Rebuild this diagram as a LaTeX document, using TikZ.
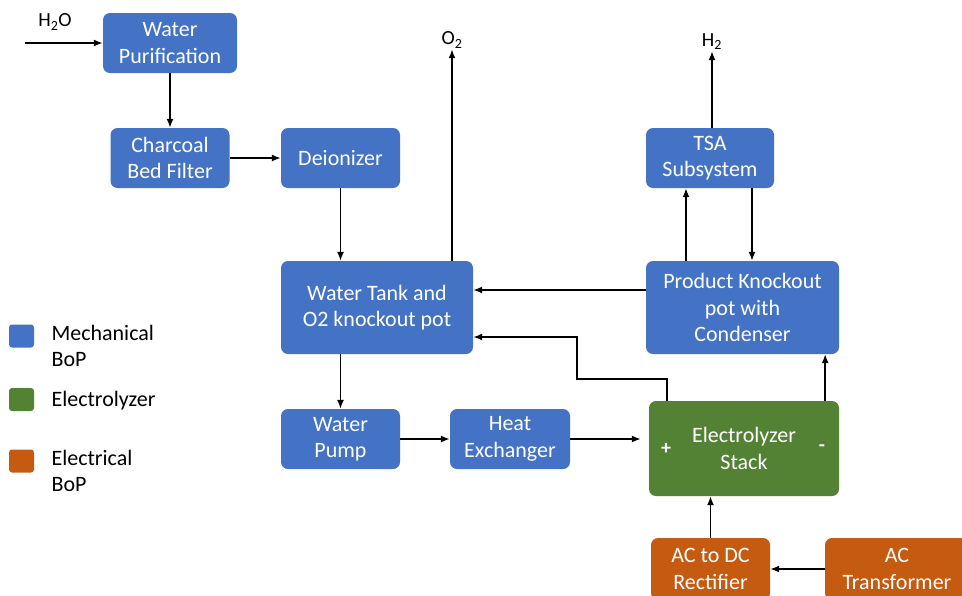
\documentclass[tikz,border=0pt]{standalone}
\usepackage{fontspec}
\setmainfont{Carlito}
\usetikzlibrary{arrows.meta,positioning}
\definecolor{mechblue}{HTML}{4472C4}
\definecolor{elgreen}{HTML}{548235}
\definecolor{elorange}{HTML}{C55A11}

\begin{document}
\begin{tikzpicture}[x=1pt,y=-1pt,>={Latex[length=9pt,width=7pt]},
  blk/.style={rounded corners=7pt,text=white,align=center,inner sep=0pt,
    font=\fontsize{22}{26.5}\selectfont},
  mech/.style={blk,fill=mechblue},
  stack/.style={blk,fill=elgreen},
  elec/.style={blk,fill=elorange},
  swatch/.style={rounded corners=3pt,minimum width=25pt,minimum height=23pt,inner sep=0pt},
  legtxt/.style={anchor=west,align=left,font=\fontsize{22}{26.5}\selectfont},
  lbl/.style={font=\fontsize{20}{24}\selectfont,inner sep=1pt},
  flow/.style={->,line width=1.5pt}]
\useasboundingbox (0,0) rectangle (962,595);

% blocks
\node[mech,minimum width=134pt,minimum height=60pt] (wpur) at (170,43) {Water\\Purification};
\node[mech,minimum width=119pt,minimum height=60pt] (cbf) at (170,158) {Charcoal\\Bed Filter};
\node[mech,minimum width=119pt,minimum height=60pt] (dei) at (340.5,158) {Deionizer};
\node[mech,minimum width=192pt,minimum height=93pt] (tank) at (377,307.5) {Water Tank and\\O2 knockout pot};
\node[mech,minimum width=119pt,minimum height=60pt] (pump) at (340.5,439) {Water\\Pump};
\node[mech,minimum width=120pt,minimum height=60pt] (hx) at (510,439) {Heat\\Exchanger};
\node[stack,minimum width=190pt,minimum height=95pt] (es) at (744,448.5) {Electrolyzer\\Stack};
\node[mech,minimum width=128pt,minimum height=60pt] (tsa) at (710,158) {TSA\\Subsystem};
\node[mech,minimum width=193pt,minimum height=93pt] (pkp) at (742.5,307.5) {Product Knockout\\pot with\\Condenser};
\node[elec,minimum width=119pt,minimum height=62pt] (rect) at (710.5,569) {AC to DC\\Rectifier};
\node[elec,minimum width=144pt,minimum height=62pt] (trans) at (897,569) {AC\\Transformer};
\node[text=white,font=\bfseries\fontsize{20}{24}\selectfont] (plus) at (666,449) {+};
\node[text=white,font=\bfseries\fontsize{20}{24}\selectfont] (minus) at (822,448) {-};

% outside streams
\coordinate (h2oin) at (25,43);
\node[lbl] (h2o) at (55,22) {H\textsubscript{2}O};
\node[lbl] (o2) at (452,40) {O\textsubscript{2}};
\node[lbl] (h2) at (712,42) {H\textsubscript{2}};

% legend
\node[swatch,fill=mechblue] (legm) at (21.5,336) {};
\node[swatch,fill=elgreen] (lege) at (21.5,399.5) {};
\node[swatch,fill=elorange] (lego) at (21.5,461) {};
\node[legtxt] (legmt) at (48,346) {Mechanical\\BoP};
\node[legtxt] (leget) at (48,401) {Electrolyzer};
\node[legtxt] (legot) at (48,471) {Electrical\\BoP};

% helper points
\coordinate (tsaL) at ([xshift=-24pt]tsa.south);
\coordinate (tsaR) at ([xshift=42pt]tsa.south);
\coordinate (esR) at ([xshift=-14pt]es.north east);
\coordinate (esL) at ([xshift=18pt]es.north west);
\coordinate (pkpout) at ([yshift=17.5pt]pkp.west);
\coordinate (tankin) at ([yshift=-29.5pt]tank.east);

\path[flow]
(h2oin) edge (wpur.west)
(wpur.south) edge (cbf.north)
(cbf.east) edge (dei.east -| dei.west)
(dei.south) edge (dei.south |- tank.north)
(tank.north -| o2) edge (o2.south)
(pump.north |- tank.south) edge (pump.north)
(pump.east) edge (hx.west)
(hx.east) edge[shorten >=8pt] (hx.east -| es.west)
(esR) edge (esR |- pkp.south)
(tsaL |- pkp.north) edge (tsaL)
(tsaR) edge (tsaR |- pkp.north)
(tsa.north -| h2) edge (h2.south)
(pkpout) edge (pkpout -| tank.east)
(rect.north) edge (rect.north |- es.south)
(trans.west) edge (rect.east)
;
\draw[flow] (esL) |- (577,379) |- (tankin);
\end{tikzpicture}
\end{document}
